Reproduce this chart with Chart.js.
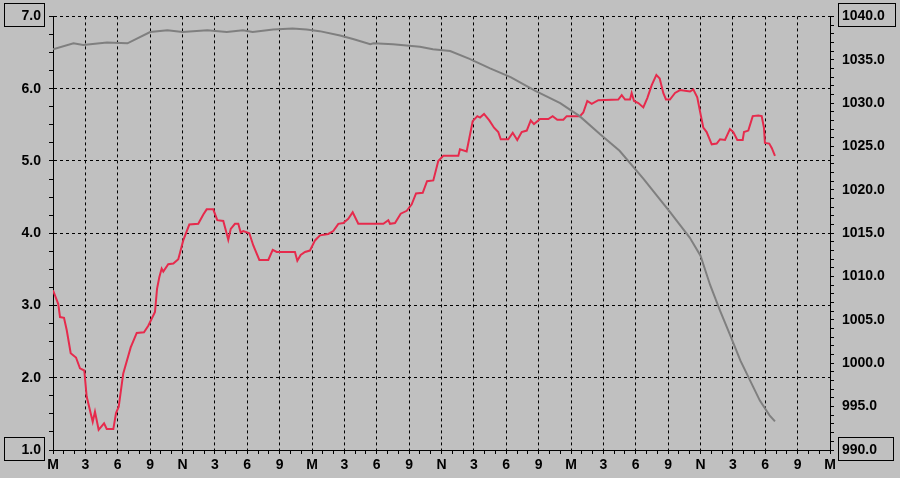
<!DOCTYPE html>
<html>
<head>
<meta charset="utf-8">
<script src="https://cdn.jsdelivr.net/npm/chart.js@4"></script>
<style>
  html, body { margin: 0; padding: 0; background: #c0c0c0; }
  #wrap { width: 900px; height: 478px; }
</style>
</head>
<body>
<div id="wrap"><canvas id="chart" width="900" height="478"></canvas></div>
<script>
// x labels repeat every 3 hours: M(idnight), 3, 6, 9, N(oon), ...
var hourLabels = ['M', '3', '6', '9', 'N', '3', '6', '9'];

// red trace (left axis), hours from start
var redHours = [0.0, 0.49, 0.65, 1.02, 1.27, 1.64, 2.13, 2.50, 2.90, 3.12, 3.68, 3.89, 4.23, 4.73, 4.98, 5.59, 5.84, 6.09, 6.51, 7.20,
    7.76, 8.43, 8.83, 9.45, 9.64, 9.85, 10.07, 10.22, 10.68, 11.15, 11.61, 12.07, 12.63, 13.46, 13.93, 14.24, 14.85, 15.22, 15.78, 16.03,
    16.24, 16.47, 16.86, 17.17, 17.39, 17.63, 18.19, 18.56, 19.12, 19.95, 20.36, 20.73, 22.42, 22.64, 22.95, 23.35, 23.81, 24.28, 24.74, 25.51,
    25.97, 26.44, 26.90, 27.36, 27.77, 28.29, 30.61, 31.07, 31.23, 31.69, 32.22, 32.78, 33.24, 33.64, 34.26, 34.66, 35.24, 35.70, 36.17, 37.56,
    37.71, 38.33, 38.89, 39.32, 39.57, 39.94, 40.43, 40.87, 41.26, 41.49, 42.19, 42.60, 43.02, 43.43, 43.90, 44.27, 44.57, 45.13, 45.90, 46.30,
    46.73, 47.29, 47.60, 48.83, 49.14, 49.51, 49.92, 50.53, 52.38, 52.70, 53.01, 53.47, 53.62, 53.84, 54.24, 54.70, 55.07, 55.48, 55.91, 56.22,
    56.55, 56.80, 57.17, 57.64, 58.10, 59.03, 59.33, 59.70, 59.95, 60.26, 60.57, 61.04, 61.50, 61.81, 62.27, 62.73, 63.04, 63.41, 63.91, 64.03,
    64.43, 64.84, 65.36, 65.67, 65.88, 65.97, 66.37, 66.60, 66.90];
var redValues = [3.21, 3.02, 2.84, 2.83, 2.66, 2.34, 2.28, 2.13, 2.10, 1.74, 1.39, 1.53, 1.28, 1.37, 1.29, 1.29, 1.51, 1.60, 2.06, 2.42,
    2.62, 2.63, 2.72, 2.91, 3.23, 3.39, 3.51, 3.47, 3.57, 3.58, 3.64, 3.90, 4.12, 4.13, 4.26, 4.33, 4.33, 4.18, 4.17, 4.03,
    3.91, 4.06, 4.13, 4.13, 4.01, 4.03, 4.00, 3.83, 3.63, 3.63, 3.77, 3.74, 3.74, 3.62, 3.70, 3.74, 3.76, 3.90, 3.97, 3.99,
    4.03, 4.13, 4.14, 4.20, 4.29, 4.13, 4.13, 4.18, 4.13, 4.14, 4.27, 4.31, 4.40, 4.55, 4.56, 4.72, 4.73, 5.00, 5.07, 5.07,
    5.16, 5.13, 5.55, 5.62, 5.60, 5.65, 5.56, 5.46, 5.40, 5.30, 5.30, 5.39, 5.29, 5.40, 5.42, 5.56, 5.51, 5.58, 5.58, 5.62,
    5.57, 5.57, 5.62, 5.62, 5.67, 5.83, 5.79, 5.84, 5.85, 5.91, 5.85, 5.85, 5.94, 5.83, 5.80, 5.74, 5.87, 6.05, 6.19, 6.14,
    5.94, 5.85, 5.85, 5.94, 5.98, 5.96, 5.99, 5.88, 5.69, 5.46, 5.40, 5.23, 5.24, 5.30, 5.29, 5.44, 5.40, 5.29, 5.29, 5.40,
    5.42, 5.62, 5.63, 5.62, 5.46, 5.25, 5.24, 5.18, 5.07];

// grey trace (right axis, pressure)
var greyHours = [0, 1.9, 2.8, 5.0, 6.9, 9.0, 10.6, 12.0, 14.3, 16.1, 17.6, 18.5, 20.4, 22.2, 23.5, 24.7, 26.6, 27.8, 29.4, 29.7,
    31.5, 34.0, 35.2, 36.8, 38.6, 40.5, 42.4, 44.7, 47.0, 48.8, 50.7, 52.5, 54.7, 57.2, 59.0, 60.0, 60.9, 61.8, 62.7, 63.7,
    64.6, 65.5, 66.4, 66.9];
var greyValues = [1036.2, 1036.9, 1036.7, 1037.0, 1036.9, 1038.2, 1038.4, 1038.2, 1038.4, 1038.2, 1038.4, 1038.2, 1038.5, 1038.6, 1038.5, 1038.3, 1037.8, 1037.4, 1036.8, 1036.9,
    1036.8, 1036.5, 1036.2, 1036.0, 1035.1, 1034.0, 1033.0, 1031.4, 1030.0, 1028.5, 1026.4, 1024.5, 1021.3, 1017.4, 1014.5, 1012.4, 1009.0, 1006.1, 1003.4, 1000.3,
    998.0, 995.7, 994.0, 993.3];

function toPoints(xs, ys) {
    return xs.map(function(x, i) { return {x: x, y: ys[i]}; });
}

var tickFont = {family: 'Liberation Sans', size: 14, weight: 'bold'};
var dashedGrid = function(isMajor) {
    return function(ctx) { return isMajor(ctx.tick.value) ? '#000000' : 'rgba(0,0,0,0)'; };
};

// boxes round the end labels of both value axes
var endBoxes = {
    id: 'endBoxes',
    afterDraw: function(chart) {
        var c = chart.ctx;
        var y = chart.scales.y, y1 = chart.scales.y1;
        c.save();
        c.strokeStyle = '#000';
        c.lineWidth = 1;
        var top = Math.round(y.getPixelForValue(7));
        var bot = Math.round(y.getPixelForValue(1));
        c.strokeRect(4.5, top - 12.5, 40, 23);
        c.strokeRect(4.5, bot - 12.5, 40, 23);
        c.strokeRect(838.5, top - 12.5, 57, 23);
        c.strokeRect(838.5, bot - 12.5, 55, 23);
        c.restore();
    }
};

var chart = new Chart(document.getElementById('chart').getContext('2d'), {
    type: 'line',
    data: {
        datasets: [{
            label: 'pressure',
            data: toPoints(greyHours, greyValues),
            yAxisID: 'y1',
            borderColor: '#7f7f7f',
            borderWidth: 2,
            pointRadius: 0,
            tension: 0
        }, {
            label: 'red',
            data: toPoints(redHours, redValues),
            yAxisID: 'y',
            borderColor: '#e62a4c',
            borderWidth: 2,
            pointRadius: 0,
            tension: 0
        }]
    },
    options: {
        responsive: false,
        animation: false,
        devicePixelRatio: 1,
        layout: {padding: {top: 15, left: 0, right: 0, bottom: 0}},
        plugins: {legend: {display: false}, tooltip: {enabled: false}},
        scales: {
            x: {
                type: 'linear',
                min: 0,
                max: 72,
                afterFit: function(s) { s.height = 28; },
                border: {color: '#000', width: 1, dash: [3, 3]},
                grid: {
                    color: dashedGrid(function(v) { return v % 3 === 0; }),
                    tickColor: '#000',
                    tickLength: 4
                },
                ticks: {
                    stepSize: 1,
                    autoSkip: false,
                    maxRotation: 0,
                    padding: 3,
                    color: '#000',
                    font: tickFont,
                    callback: function(v) { return v % 3 === 0 ? hourLabels[(v / 3) % 8] : ''; }
                }
            },
            y: {
                position: 'left',
                min: 1,
                max: 7,
                afterFit: function(s) { s.width = 53; },
                border: {color: '#000', width: 1, dash: [3, 3]},
                grid: {
                    color: dashedGrid(function(v) { return Number.isInteger(v); }),
                    tickColor: '#000',
                    tickLength: 4
                },
                ticks: {
                    stepSize: 0.25,
                    maxTicksLimit: 1000,
                    autoSkip: false,
                    padding: 8,
                    color: '#000',
                    font: tickFont,
                    callback: function(v) { return Number.isInteger(v) ? v.toFixed(1) : ''; }
                }
            },
            y1: {
                position: 'right',
                min: 990,
                max: 1040,
                afterFit: function(s) { s.width = 70; },
                border: {color: '#000', width: 1},
                grid: {
                    drawOnChartArea: false,
                    color: '#000',
                    tickColor: '#000',
                    tickLength: 4
                },
                ticks: {
                    stepSize: 1,
                    maxTicksLimit: 1000,
                    autoSkip: false,
                    padding: 8,
                    color: '#000',
                    font: tickFont,
                    callback: function(v) { return v % 5 === 0 ? v.toFixed(1) : ''; }
                }
            }
        }
    },
    plugins: [endBoxes]
});
</script>
</body>
</html>
